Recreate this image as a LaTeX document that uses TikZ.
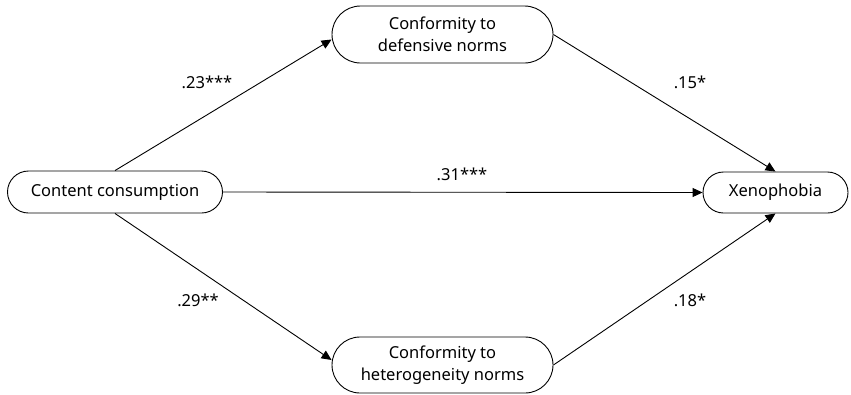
\documentclass[tikz,border=0pt]{standalone}
\usepackage{fontspec}
\setmainfont{Noto Sans}
\usetikzlibrary{shapes.misc,arrows.meta}
\tikzset{every picture/.style={line width=0.9pt}}

\begin{document}
\begin{tikzpicture}[
    x=1pt, y=1pt,
    var/.style={
        rounded rectangle, draw=black, fill=white, align=center,
        inner sep=0pt, font=\fontsize{16.5}{22}\selectfont
    },
    path/.style={-{Triangle[length=10pt, width=9pt]}, black},
    coef/.style={font=\fontsize{16.5}{20}\selectfont, inner sep=0pt},
]

\useasboundingbox (0,0) rectangle (851,-394);

%% ===================== VARIABLES =====================
\node[var, minimum width=215pt, minimum height=42pt] (cons) at (115,-192)
  {Content consumption};
\node[var, minimum width=221pt, minimum height=57pt] (defn) at (442.5,-34.5)
  {Conformity to\\defensive norms};
\node[var, minimum width=221pt, minimum height=56pt] (hetn) at (442.5,-365)
  {Conformity to\\heterogeneity norms};
\node[var, minimum width=145pt, minimum height=41pt] (xeno) at (775.5,-192.5)
  {Xenophobia};

%% ===================== PATHS =====================
\draw[path] (cons.north) -- ([yshift=-5pt]defn.west);
\draw[path] (defn.east) -- (xeno.north);
\draw[path] (cons.east) -- (xeno.west);
\draw[path] (cons.south) -- ([yshift=5pt]hetn.west);
\draw[path] (hetn.east) -- (xeno.south);

%% ===================== COEFFICIENTS =====================
\node[coef] (c23) at (207,-82)  {.23***};
\node[coef] (c15) at (690,-82)  {.15*};
\node[coef] (c31) at (462,-174) {.31***};
\node[coef] (c29) at (198,-300) {.29**};
\node[coef] (c18) at (690,-300) {.18*};

\end{tikzpicture}
\end{document}
